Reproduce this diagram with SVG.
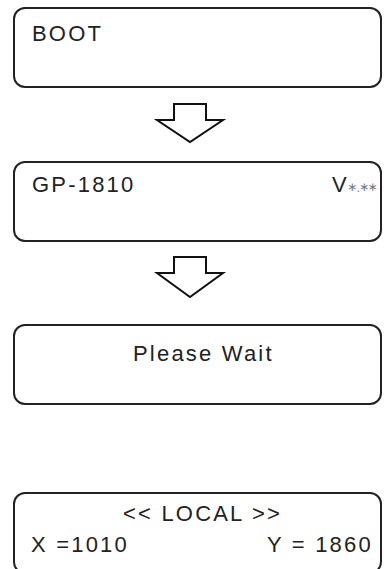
<svg xmlns="http://www.w3.org/2000/svg" width="384" height="569" viewBox="0 0 384 569">
<style>
.box{fill:#fff;stroke:#222;stroke-width:2}
.arr{fill:#fff;stroke:#111;stroke-width:2;stroke-linejoin:miter}
.t{font-family:"Liberation Sans",Arial,sans-serif;font-size:22px;fill:#222;letter-spacing:2.2px}
.ast{font-family:"DejaVu Sans",sans-serif;font-size:12px;fill:#777;text-anchor:middle}
.dot{font-family:"Liberation Sans",Arial,sans-serif;font-size:12px;fill:#777;text-anchor:middle}
</style>
<rect width="384" height="569" fill="#fff"/>
<g id="connectors">
<polygon class="arr" points="174,104 206,104 206,120 223,120 190,142 157,120 174,120"/>
<polygon class="arr" points="174,257 206,257 206,273 223,273 190,297 157,273 174,273"/>
</g>
<g id="boot">
<rect class="box" x="14" y="8" width="367" height="79" rx="11"/>
<text class="t" x="32" y="41">BOOT</text>
</g>
<g id="version">
<rect class="box" x="14" y="162" width="367" height="79" rx="11"/>
<text class="t" x="32" y="192">GP-1810</text>
<text class="t" x="332" y="192" style="letter-spacing:0">V</text>
<text class="ast" x="352" y="190.5">∗</text>
<text class="dot" x="358.5" y="192">.</text>
<text class="ast" x="364" y="190.5">∗</text>
<text class="ast" x="372.5" y="190.5">∗</text>
</g>
<g id="wait">
<rect class="box" x="14" y="325" width="367" height="79" rx="11"/>
<text class="t" x="133" y="361">Please Wait</text>
</g>
<g id="local">
<rect class="box" x="14" y="493" width="367" height="80" rx="11"/>
<text class="t" x="123" y="521">&lt;&lt; LOCAL &gt;&gt;</text>
<text class="t" x="31" y="552">X =1010</text>
<text class="t" x="267" y="552">Y = 1860</text>
</g>
</svg>
